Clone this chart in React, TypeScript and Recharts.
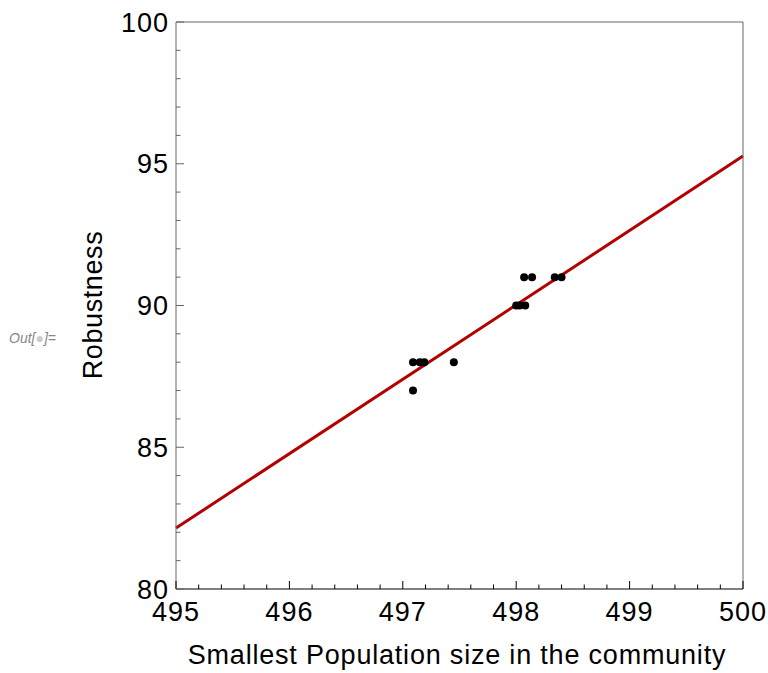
import { ScatterChart, Scatter, XAxis, YAxis, ReferenceLine } from "recharts";

// measured samples
const popSize = [497.09, 497.09, 497.15, 497.19, 497.45, 498.0, 498.03, 498.08, 498.07, 498.14, 498.34, 498.4];
const robustness = [87, 88, 88, 88, 88, 90, 90, 90, 91, 91, 91, 91];

// linear fit evaluated at the ends of the x range
const fitX = [495, 500];
const fitY = [82.15, 95.27];

const xMajor = [495, 496, 497, 498, 499, 500];
const yMajor = [80, 85, 90, 95, 100];
const xTicks = Array.from({ length: 26 }, (_, i) => +(495 + i * 0.2).toFixed(1));
const yTicks = Array.from({ length: 21 }, (_, i) => 80 + i);

const points = popSize.map((x, i) => ({ x, y: robustness[i] }));

const FONT = "'Liberation Sans', Arial, sans-serif";
const FRAME = "#666";

const isMajor = (list: number[], v: number) => list.some((m) => Math.abs(m - v) < 1e-6);

const BottomTick = (props: any) => {
  const { x, y, payload } = props;
  const major = isMajor(xMajor, payload.value);
  return (
    <g>
      <line x1={x} x2={x} y1={y} y2={y - (major ? 8 : 4.5)} stroke="#000" />
      {major && (
        <text x={x} y={y + 32} textAnchor="middle" fontSize={27} fontFamily={FONT} fill="#000" letterSpacing={1}>
          {payload.value}
        </text>
      )}
    </g>
  );
};

const TopTick = (props: any) => {
  const { x, y, payload } = props;
  const major = isMajor(xMajor, payload.value);
  return <line x1={x} x2={x} y1={y} y2={y + (major ? 8 : 4.5)} stroke={FRAME} />;
};

const LeftTick = (props: any) => {
  const { x, y, payload } = props;
  const major = isMajor(yMajor, payload.value);
  return (
    <g>
      <line x1={x} x2={x + (major ? 8 : 4.5)} y1={y} y2={y} stroke={FRAME} />
      {major && (
        <text x={x - 7} y={y + 9.5} textAnchor="end" fontSize={27} fontFamily={FONT} fill="#000" letterSpacing={1}>
          {payload.value}
        </text>
      )}
    </g>
  );
};

const RightTick = (props: any) => {
  const { x, y, payload } = props;
  const major = isMajor(yMajor, payload.value);
  return <line x1={x} x2={x - (major ? 8 : 4.5)} y1={y} y2={y} stroke={FRAME} />;
};

const Dot = (props: any) => <circle cx={props.cx} cy={props.cy} r={4} fill="#000" />;

export default function App() {
  return (
    <div style={{ position: "absolute", left: 0, top: 0, background: "#fff" }}>
      <ScatterChart width={768} height={673} margin={{ top: 21, right: 24, bottom: 83, left: 175 }}>
        <XAxis
          xAxisId="b"
          type="number"
          dataKey="x"
          domain={[495, 500]}
          ticks={xTicks}
          interval={0}
          height={1}
          tickSize={0}
          tickMargin={0}
          axisLine={{ stroke: "#000" }}
          tickLine={false}
          tick={<BottomTick />}
        />
        <XAxis
          xAxisId="t"
          orientation="top"
          type="number"
          dataKey="x"
          domain={[495, 500]}
          ticks={xTicks}
          interval={0}
          height={1}
          tickSize={0}
          tickMargin={0}
          axisLine={{ stroke: FRAME }}
          tickLine={false}
          tick={<TopTick />}
        />
        <YAxis
          yAxisId="l"
          type="number"
          dataKey="y"
          domain={[80, 100]}
          ticks={yTicks}
          interval={0}
          width={1}
          tickSize={0}
          tickMargin={0}
          axisLine={{ stroke: FRAME }}
          tickLine={false}
          tick={<LeftTick />}
        />
        <YAxis
          yAxisId="r"
          orientation="right"
          type="number"
          dataKey="y"
          domain={[80, 100]}
          ticks={yTicks}
          interval={0}
          width={1}
          tickSize={0}
          tickMargin={0}
          axisLine={{ stroke: FRAME }}
          tickLine={false}
          tick={<RightTick />}
        />
        <Scatter xAxisId="b" yAxisId="l" data={points} shape={<Dot />} isAnimationActive={false} />
        <ReferenceLine
          xAxisId="b"
          yAxisId="l"
          segment={[
            { x: fitX[0], y: fitY[0] },
            { x: fitX[1], y: fitY[1] },
          ]}
          stroke="#b30000"
          strokeWidth={3}
        />
        <text x={457} y={664} textAnchor="middle" fontSize={27} fontFamily={FONT} fill="#000" letterSpacing={0.8}>
          Smallest Population size in the community
        </text>
        <text
          x={102}
          y={305}
          transform="rotate(-90 102 305)"
          textAnchor="middle"
          fontSize={27}
          fontFamily={FONT}
          fill="#000"
          letterSpacing={0.6}
        >
          Robustness
        </text>
        <text x={9} y={343} fontSize={14} fontStyle="italic" fontFamily={FONT} fill="#888">
          Out[<tspan fill="#ccc">●</tspan>]=
        </text>
      </ScatterChart>
    </div>
  );
}
